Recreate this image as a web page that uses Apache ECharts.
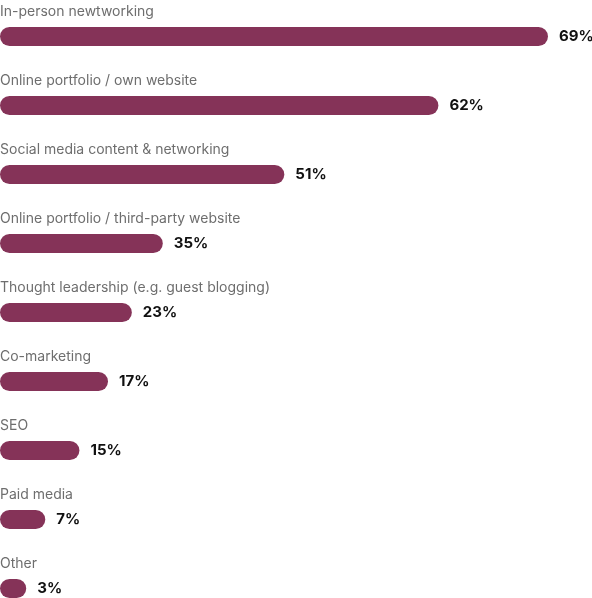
<!DOCTYPE html>
<html style="height: 100%" lang="en">

<head>
  <meta charset="utf-8">
  <script type="text/javascript" src="https://cdn.jsdelivr.net/npm/echarts@6/dist/echarts.min.js"></script>
</head>

<body style="height: 100%; margin: 0; background: #fff">
  <div id="container" style="width: 592px; height: 598px"></div>
  <script type="text/javascript">
    // channels, top to bottom
    var categories = [
      'In-person newtworking',
      'Online portfolio / own website',
      'Social media content & networking',
      'Online portfolio / third-party website',
      'Thought leadership (e.g. guest blogging)',
      'Co-marketing',
      'SEO',
      'Paid media',
      'Other'
    ];
    // percentages printed next to the bars
    var shares = [69, 62, 51, 35, 23, 17, 15, 7, 3];
    // bar lengths as drawn in the picture (same units as the top bar)
    var barLengths = [69, 55.2, 35.8, 20.5, 16.6, 13.6, 10, 5.7, 3.3];

    var dom = document.getElementById('container');
    var myChart = echarts.init(dom);

    var option = {
      animation: false,
      grid: {
        left: 0,
        top: 2,
        width: 548,
        height: 621,
        containLabel: false,
        outerBoundsMode: 'none'
      },
      xAxis: {
        type: 'value',
        min: 0,
        max: 69,
        show: false
      },
      yAxis: {
        type: 'category',
        inverse: true,
        data: categories,
        axisLine: { show: false },
        axisTick: { show: false },
        axisLabel: {
          inside: true,
          margin: 0,
          verticalAlign: 'bottom',
          padding: [0, 0, 18, 0],
          color: '#6e6e6e',
          fontFamily: 'Inter',
          fontSize: 14
        }
      },
      series: [{
        type: 'bar',
        barWidth: 19,
        data: barLengths.map(function(v, i) {
          return { value: v, share: shares[i] };
        }),
        itemStyle: {
          color: '#853358',
          borderRadius: 9.5
        },
        label: {
          show: true,
          position: 'right',
          distance: 11,
          color: '#111',
          fontFamily: 'Inter',
          fontWeight: 'bold',
          fontSize: 15,
          formatter: function(p) {
            return shares[p.dataIndex] + '%';
          }
        }
      }]
    };

    myChart.setOption(option);
  </script>
</body>

</html>
